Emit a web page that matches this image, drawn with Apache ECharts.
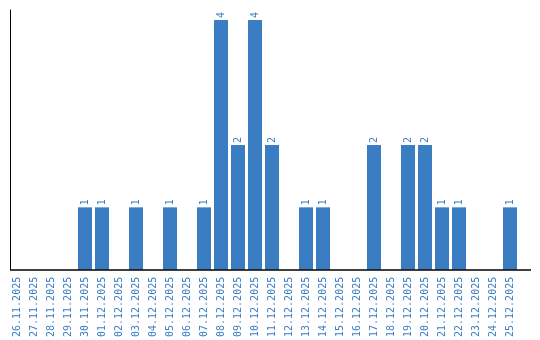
<!DOCTYPE html>
<html><head><meta charset="utf-8">
<script src="https://cdn.jsdelivr.net/npm/echarts@6/dist/echarts.min.js"></script>
<style>html,body{margin:0;padding:0;background:#fff}#c{width:540px;height:340px}</style>
</head><body><div id="c"></div>
<script>
const categories = ["26.11.2025","27.11.2025","28.11.2025","29.11.2025","30.11.2025","01.12.2025","02.12.2025","03.12.2025","04.12.2025","05.12.2025","06.12.2025","07.12.2025","08.12.2025","09.12.2025","10.12.2025","11.12.2025","12.12.2025","13.12.2025","14.12.2025","15.12.2025","16.12.2025","17.12.2025","18.12.2025","19.12.2025","20.12.2025","21.12.2025","22.12.2025","23.12.2025","24.12.2025","25.12.2025"];
const counts = [0,0,0,0,1,1,0,1,0,1,0,1,4,2,4,2,0,1,1,0,0,2,0,2,2,1,1,0,0,1];
const blue = '#3b7dc2';
const font = 'DejaVu Sans Mono';
const chart = echarts.init(document.getElementById('c'));
chart.setOption({
  animation: false,
  grid: {left: 8.5, top: 10, width: 510, bottom: 70, containLabel: false},
  xAxis: {
    type: 'category', data: categories,
    axisLine: {show: false}, axisTick: {show: false},
    axisLabel: {rotate: 90, interval: 0, color: blue, fontFamily: font, fontSize: 10, margin: 7}
  },
  yAxis: {
    type: 'value', min: 0, max: 4.16, offset: -1.5,
    axisLine: {show: true, lineStyle: {color: '#000', width: 1}},
    axisTick: {show: false}, axisLabel: {show: false}, splitLine: {show: false}
  },
  graphic: [{
    type: 'line', shape: {x1: 10, y1: 270, x2: 531, y2: 270},
    style: {stroke: '#000', lineWidth: 1.5}, z: 10
  }],
  series: [{
    type: 'bar', data: counts.map(v => v === 0 ? {value: v, label: {show: false}} : v),
    barWidth: 14, itemStyle: {color: blue},
    label: {show: true, position: 'top', rotate: 90, align: 'left', verticalAlign: 'middle',
      distance: 2, color: blue, fontFamily: font, fontSize: 10}
  }]
});
</script></body></html>
